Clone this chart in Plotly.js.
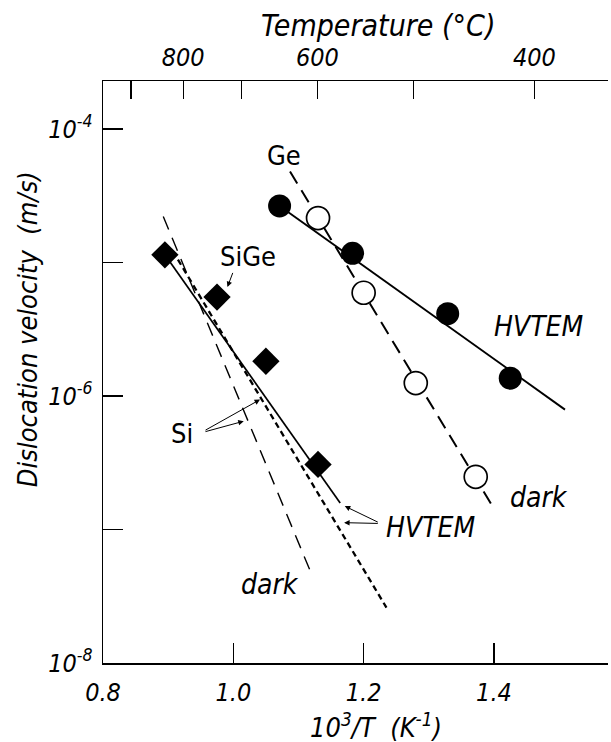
<!DOCTYPE html>
<html>
<head>
<meta charset="utf-8">
<script src="https://cdn.plot.ly/plotly-3.0.1.min.js"></script>
<style>html,body{margin:0;padding:0;background:#fff;}#chart{width:611px;height:742px;}</style>
</head>
<body>
<div id="chart"></div>
<script>
// ---- data (x = 10^3/T in 1/K, y = dislocation velocity in m/s) ----
const sigeX = [0.895, 0.975, 1.050, 1.130];
const sigeY = [1.14e-5, 5.5e-6, 1.82e-6, 3.07e-7];

const geHvX = [1.071, 1.183, 1.329, 1.425];
const geHvY = [2.65e-5, 1.17e-5, 4.13e-6, 1.36e-6];

const geDarkX = [1.130, 1.200, 1.280, 1.372];
const geDarkY = [2.15e-5, 5.93e-6, 1.25e-6, 2.48e-7];

// fitted lines (end points)
const geHvLineX = [1.071, 1.509];
const geHvLineY = [2.65e-5, 7.9e-7];
const geDarkLineX = [1.087, 1.399];
const geDarkLineY = [4.8e-5, 1.46e-7];
const sigeLineX = [0.895, 1.164];
const sigeLineY = [1.14e-5, 1.58e-7];
const siHvLineX = [0.915, 1.235];
const siHvLineY = [1.05e-5, 2.6e-8];
const siDarkLineX = [0.8925, 1.118];
const siDarkLineY = [2.21e-5, 4.89e-8];

// axis ticks
const xTickVals = [0.8, 1.0, 1.2, 1.4];
const xTickText = ['0.8', '1.0', '1.2', '1.4'];
const yTickVals = [1e-8, 1e-7, 1e-6, 1e-5, 1e-4];
const yTickText = ['10<sup>-8</sup>', '', '10<sup>-6</sup>', '', '10<sup>-4</sup>'];
const topTickPos = [0.843, 0.923, 1.013, 1.129, 1.277, 1.462];
const topTickText = ['', '800', '', '600', '', '400'];

const FONT = '"Liberation Sans Narrow", "DejaVu Sans Condensed", "Liberation Sans", Arial, sans-serif';
const K = '#000';

function line(x, y, dash, width) {
  return {x: x, y: y, mode: 'lines', type: 'scatter', showlegend: false, hoverinfo: 'skip',
          line: {color: K, width: width, dash: dash}};
}

const traces = [
  line(siDarkLineX, siDarkLineY, '14px,9px', 1.4),
  line(siHvLineX, siHvLineY, '6px,4px', 2.3),
  line(sigeLineX, sigeLineY, 'solid', 1.7),
  line(geDarkLineX, geDarkLineY, '14px,8px', 2.0),
  line(geHvLineX, geHvLineY, 'solid', 1.9),
  {x: sigeX, y: sigeY, mode: 'markers', type: 'scatter', showlegend: false,
   marker: {symbol: 'diamond', size: 21, color: K, line: {width: 0}}},
  {x: geDarkX, y: geDarkY, mode: 'markers', type: 'scatter', showlegend: false,
   marker: {symbol: 'circle', size: 23, color: '#fff', line: {width: 1.7, color: K}}},
  {x: geHvX, y: geHvY, mode: 'markers', type: 'scatter', showlegend: false,
   marker: {symbol: 'circle', size: 23, color: K, line: {width: 0}}},
  {x: [0.8], y: [1e-8], xaxis: 'x2', mode: 'markers', type: 'scatter', showlegend: false,
   hoverinfo: 'skip', marker: {opacity: 0}}
];

const up = {family: FONT, size: 27, color: K};
const it = {family: FONT, size: 28, color: K, style: 'italic'};

function label(text, x, logy, font) {
  return {text: text, x: x, y: logy, xref: 'x', yref: 'y', showarrow: false, font: font,
          xanchor: 'center', yanchor: 'middle'};
}
function arrow(x0, y0, x1, y1) {
  return {text: '', x: x1, y: y1, ax: x0, ay: y0, xref: 'x', yref: 'y', axref: 'x', ayref: 'y',
          showarrow: true, arrowhead: 2, arrowsize: 1.1, arrowwidth: 1, arrowcolor: K, standoff: 0, startstandoff: 0};
}

const annotations = [
  label('Ge', 1.077, -4.202, up),
  label('HVTEM', 1.468, -5.479, it),
  label('dark', 1.469, -6.76, it),
  label('SiGe', 1.022, -4.955, up),
  label('Si', 0.921, -6.281, up),
  label('dark', 1.056, -7.411, it),
  label('HVTEM', 1.303, -6.984, it),
  arrow(1.000, -5.067, 0.991, -5.184),
  arrow(0.955, -6.262, 1.041, -6.027),
  arrow(0.955, -6.270, 1.016, -6.189),
  arrow(1.224, -6.950, 1.171, -6.825),
  arrow(1.224, -6.955, 1.170, -6.949),
  {text: 'Temperature (°C)', xref: 'paper', yref: 'paper', x: 0.545, y: 1.095,
   showarrow: false, font: {family: FONT, size: 30, color: K, style: 'italic'}, xanchor: 'center', yanchor: 'middle'},
  {text: '10<sup>3</sup>/T  (K<sup>-1</sup>)', xref: 'paper', yref: 'paper', x: 0.54, y: -0.107,
   showarrow: false, font: {family: FONT, size: 27, color: K, style: 'italic'}, xanchor: 'center', yanchor: 'middle'},
  {text: 'Dislocation velocity  (m/s)', xref: 'paper', yref: 'paper', x: -0.148, y: 0.574, textangle: -90,
   showarrow: false, font: {family: FONT, size: 27, color: K, style: 'italic'}, xanchor: 'center', yanchor: 'middle'}
];

const tickFont = {family: FONT, size: 25, color: K, style: 'italic'};

const layout = {
  width: 611, height: 742,
  margin: {l: 103, r: 3, t: 81, b: 79, pad: 0},
  paper_bgcolor: '#fff', plot_bgcolor: '#fff',
  showlegend: false,
  xaxis: {range: [0.8, 1.575], tickvals: xTickVals, ticktext: xTickText, ticks: 'inside', ticklen: 20,
          tickwidth: 1.3, tickcolor: K, showline: true, linewidth: 1.5, linecolor: K, showgrid: false,
          zeroline: false, tickfont: tickFont, ticklabelstandoff: 6},
  xaxis2: {range: [0.8, 1.575], overlaying: 'x', side: 'top', anchor: 'y', tickvals: topTickPos,
           ticktext: topTickText, ticks: 'inside', ticklen: 18, tickwidth: 1.3, tickcolor: K, showline: true,
           linewidth: 1.5, linecolor: K, showgrid: false, zeroline: false, tickfont: tickFont, ticklabelstandoff: 4},
  yaxis: {type: 'log', range: [-8, -3.641], tickvals: yTickVals, ticktext: yTickText, ticks: 'inside',
          ticklen: 20, tickwidth: 1.3, tickcolor: K, showline: true, linewidth: 1.5, linecolor: K,
          showgrid: false, zeroline: false, tickfont: tickFont, ticklabelstandoff: 4},
  annotations: annotations
};

Plotly.newPlot('chart', traces, layout, {staticPlot: true, displayModeBar: false});
</script>
</body>
</html>
